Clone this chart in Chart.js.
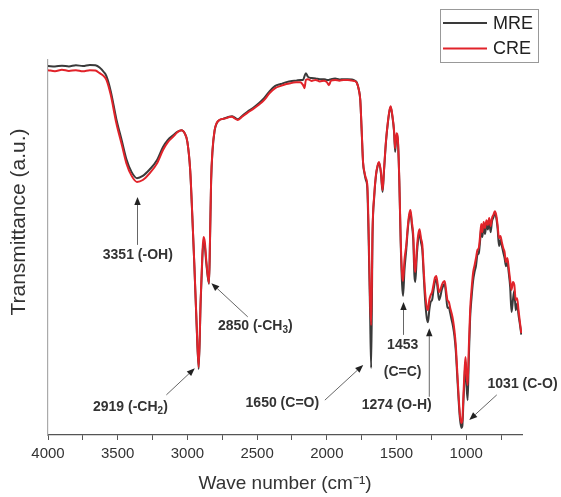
<!DOCTYPE html>
<html><head><meta charset="utf-8">
<script src="https://cdn.jsdelivr.net/npm/chart.js@4.4.1/dist/chart.umd.min.js"></script>
<style>html,body{margin:0;padding:0;background:#fff;}</style>
</head><body>
<canvas id="c" width="561" height="497"></canvas>
<script>
// ---- data ----
const wavenumbers = [4000,3950,3900,3850,3800,3750,3700,3660,3630,3600,3581,3550,3510,3470,3438,3400,3362,3320,3271,3220,3175,3140,3103,3070,3043,3020,3000,2980,2965,2950,2935,2919,2905,2893,2885,2875,2865,2845,2838,2830,2820,2805,2790,2770,2745,2720,2700,2680,2660,2640,2610,2570,2530,2490,2450,2410,2370,2330,2290,2250,2220,2190,2170,2160,2150,2135,2110,2080,2050,2020,2000,1985,1970,1940,1910,1880,1850,1820,1800,1785,1770,1760,1750,1740,1730,1720,1710,1700,1690,1682,1672,1660,1648,1635,1625,1612,1600,1590,1575,1562,1550,1542,1530,1518,1510,1500,1490,1480,1470,1460,1453,1443,1430,1420,1410,1400,1390,1380,1372,1365,1355,1345,1335,1325,1315,1305,1295,1283,1274,1265,1255,1245,1235,1225,1215,1205,1195,1185,1175,1165,1155,1145,1135,1125,1115,1105,1095,1085,1075,1065,1055,1045,1035,1028,1020,1012,1005,998,990,982,972,962,950,940,930,920,910,900,892,885,875,865,855,845,835,825,815,805,795,785,775,765,755,745,735,725,715,705,695,685,675,665,655,645,635,625,615,605];
const cre = [97.3,97.0,97.4,97.1,97.3,97.0,97.3,97.2,96.5,95.7,94.7,90.7,83.2,77.3,72.5,69.1,67.5,68.0,69.8,72.3,76.0,78.1,79.5,80.8,81.3,80.5,78.1,70.7,58.7,45.3,30.7,18.1,36.0,48.0,52.8,51.5,46.7,40.5,52.0,68.0,76.0,81.3,83.2,84.0,84.3,84.5,84.8,84.9,84.4,84.0,84.8,85.9,86.9,88.0,89.3,91.2,92.5,93.1,93.6,93.9,94.1,94.1,93.3,92.5,94.7,94.9,94.4,94.7,94.3,94.5,94.1,93.3,94.5,94.7,94.5,94.7,94.7,94.5,94.4,93.9,92.0,89.3,81.3,72.8,70.1,68.5,66.9,54.7,36.0,29.3,54.7,64.0,69.3,72.0,72.8,70.1,65.3,70.7,78.7,83.5,86.7,87.7,85.3,81.3,76.5,80.5,78.7,68.0,52.0,42.7,41.1,46.7,50.7,55.2,58.7,60.0,56.8,53.3,45.3,43.5,49.3,53.3,54.9,52.5,50.7,44.0,38.1,34.1,33.3,36.0,37.3,38.1,40.0,41.9,42.4,40.3,38.1,38.7,40.0,40.8,41.1,38.7,36.0,35.5,33.9,32.5,30.7,28.0,24.0,17.3,10.7,5.3,3.2,4.0,10.7,17.3,20.8,16.0,13.3,22.7,33.3,38.7,43.5,45.3,47.2,49.3,49.9,53.3,56.3,54.1,56.8,55.2,57.3,56.0,57.9,55.7,57.9,58.7,59.7,58.7,56.0,52.5,53.1,51.5,49.9,48.8,46.1,47.2,44.5,41.3,38.7,40.8,40.0,36.0,36.5,33.3,30.1,27.2];
const mre = [98.4,98.3,98.5,98.3,98.6,98.4,98.7,98.6,98.0,96.8,95.7,91.7,84.3,78.4,73.6,70.1,68.5,69.1,70.8,73.2,76.8,78.7,79.9,80.9,81.3,80.5,78.1,70.5,58.4,45.0,30.3,17.6,35.5,47.0,51.5,50.4,46.0,40.3,51.5,67.5,75.7,81.1,83.1,84.0,84.3,84.6,84.9,85.0,84.6,84.2,85.0,86.2,87.2,88.4,89.8,91.7,93.1,93.6,94.1,94.4,94.5,94.7,94.7,95.7,96.5,95.5,95.2,95.1,94.9,94.9,94.7,94.7,94.9,95.1,94.8,94.9,94.9,94.8,94.5,94.0,92.0,89.3,81.0,72.5,69.8,68.0,66.0,52.0,33.3,17.9,53.3,63.5,69.0,71.8,72.6,69.8,64.8,70.3,78.5,83.3,86.5,87.5,85.0,81.0,75.5,80.0,78.2,67.5,51.0,40.0,37.1,44.0,49.5,54.5,58.0,59.5,56.0,52.0,42.7,40.8,47.5,52.0,54.0,51.5,49.3,42.5,36.0,31.2,30.1,33.3,35.5,36.0,38.5,40.8,41.5,39.0,36.0,37.0,38.8,39.8,40.3,37.5,33.9,34.0,32.5,30.7,29.0,26.5,22.5,16.0,9.5,4.3,1.9,2.4,9.0,15.5,19.5,13.3,9.3,19.5,31.2,36.5,41.3,43.5,45.1,48.0,48.5,52.0,55.5,52.8,55.7,53.6,56.3,54.8,57.0,54.1,57.0,58.0,59.2,58.0,55.0,50.4,52.0,50.5,48.8,47.2,45.0,46.0,43.2,39.5,32.8,36.0,38.5,33.3,35.0,32.0,29.5,26.8];
const seriesNames = ['MRE', 'CRE'];
const xTickValues = [4000,3750,3500,3250,3000,2750,2500,2250,2000,1750,1500,1250,1000,750];
const peakLabels = ['3351 (-OH)', '2850 (-CH_3)', '2919 (-CH_2)', '1650 (C=O)', '1453|(C=C)', '1274 (O-H)', '1031 (C-O)'];

// ---- annotation placement (wavenumber, transmittance) ----
const labelAnchors = [[3356,48],[2513,28.9],[3409,7.5],[2319,8.5],[1456,24],[1499,8],[596,13.6]];
const arrowTails = [[3358,50.7],[2567,31.5],[3151,10.7],[2014,9.3],[1450,26.7],[1265,10.2],[781,10.7]];
const arrowTips  = [[3358,63.5],[2828,40.5],[2947,17.8],[1739,18.7],[1450,35.5],[1265,28.5],[978,4.0]];

const FAMILY = 'Arial, "Liberation Sans", "Helvetica", sans-serif';
const COLORS = ['#3a3a3a', '#e1232a'];

function drawRichText(ctx, text, cx, cy, size) {
  const parts = [];
  let i = 0, buf = '';
  while (i < text.length) {
    if (text[i] === '_') { if (buf) parts.push({t: buf, sub: false}); buf=''; parts.push({t: text[i+1], sub: true}); i += 2; }
    else { buf += text[i]; i++; }
  }
  if (buf) parts.push({t: buf, sub: false});
  const mainFont = 'bold ' + size + 'px ' + FAMILY;
  const subFont = 'bold ' + Math.round(size*0.7) + 'px ' + FAMILY;
  let total = 0;
  parts.forEach(p => { ctx.font = p.sub ? subFont : mainFont; p.w = ctx.measureText(p.t).width; total += p.w; });
  let xx = cx - total/2;
  ctx.textAlign = 'left'; ctx.textBaseline = 'middle';
  parts.forEach(p => { ctx.font = p.sub ? subFont : mainFont; ctx.fillText(p.t, xx, p.sub ? cy + 4 : cy); xx += p.w; });
}

const annotPlugin = {
  id: 'annot',
  afterDatasetsDraw(chart) {
    const {ctx, scales: {x, y}} = chart;
    ctx.save();
    arrowTails.forEach((t, k) => {
      const x1 = x.getPixelForValue(t[0]), y1 = y.getPixelForValue(t[1]);
      const x2 = x.getPixelForValue(arrowTips[k][0]), y2 = y.getPixelForValue(arrowTips[k][1]);
      const ang = Math.atan2(y2 - y1, x2 - x1), L = 8, W = 3.2;
      const bx = x2 - L*Math.cos(ang), by = y2 - L*Math.sin(ang);
      ctx.strokeStyle = '#666'; ctx.lineWidth = 1;
      ctx.beginPath(); ctx.moveTo(x1, y1); ctx.lineTo(bx, by); ctx.stroke();
      ctx.fillStyle = '#222';
      ctx.beginPath(); ctx.moveTo(x2, y2);
      ctx.lineTo(bx + W*Math.sin(ang), by - W*Math.cos(ang));
      ctx.lineTo(bx - W*Math.sin(ang), by + W*Math.cos(ang));
      ctx.closePath(); ctx.fill();
    });
    ctx.fillStyle = '#333';
    peakLabels.forEach((lab, k) => {
      const cx = x.getPixelForValue(labelAnchors[k][0]);
      const cy = y.getPixelForValue(labelAnchors[k][1]);
      lab.split('|').forEach((line, j) => drawRichText(ctx, line, cx, cy + j*27, 14));
    });
    ctx.restore();
  },
  afterDraw(chart) {
    const {ctx} = chart;
    ctx.save();
    // y axis title
    ctx.translate(19, 222); ctx.rotate(-Math.PI/2);
    ctx.font = '21px ' + FAMILY; ctx.fillStyle = '#333';
    ctx.textAlign = 'center'; ctx.textBaseline = 'middle';
    ctx.fillText('Transmittance (a.u.)', 0, 0);
    ctx.restore();
    // legend box
    ctx.save();
    ctx.strokeStyle = '#999'; ctx.lineWidth = 1;
    ctx.strokeRect(440.5, 9.5, 98, 53);
    chart.data.datasets.forEach((ds, k) => {
      const yy = 23 + k*25.5;
      ctx.strokeStyle = ds.borderColor; ctx.lineWidth = 1.8;
      ctx.beginPath(); ctx.moveTo(443, yy); ctx.lineTo(487, yy); ctx.stroke();
      ctx.font = '18px ' + FAMILY; ctx.fillStyle = '#222';
      ctx.textAlign = 'left'; ctx.textBaseline = 'middle';
      ctx.fillText(ds.label, 493, yy + 1);
    });
    ctx.restore();
  }
};

const datasets = [mre, cre].map((vals, k) => ({
  label: seriesNames[k],
  data: wavenumbers.map((w, i) => ({x: w, y: vals[i]})),
  borderColor: COLORS[k],
  backgroundColor: COLORS[k],
  borderWidth: 2,
  pointRadius: 0,
  cubicInterpolationMode: 'monotone',
  borderJoinStyle: 'round',
  fill: false,
  order: k === 0 ? 1 : 0
}));

new Chart(document.getElementById('c'), {
  type: 'line',
  data: {datasets},
  options: {
    responsive: false,
    animation: false,
    devicePixelRatio: 1,
    layout: {padding: {top: 60, right: 39, left: 0, bottom: 0}},
    plugins: {legend: {display: false}, tooltip: {enabled: false}},
    scales: {
      x: {
        type: 'linear', reverse: true, min: 600, max: 4000,
        afterBuildTicks: s => { s.ticks = xTickValues.map(v => ({value: v})); },
        afterFit: s => { s.height = 62; },
        grid: {drawOnChartArea: false, drawTicks: true, tickLength: 5, color: '#555', lineWidth: 1},
        border: {color: '#555', width: 1.2},
        ticks: {
          callback: v => (v % 500 === 0 ? String(v) : ''),
          font: {size: 15, family: FAMILY}, color: '#333', padding: 5,
          maxRotation: 0, autoSkip: false
        },
        title: {display: true, text: 'Wave number (cm⁻¹)', font: {size: 19, family: FAMILY}, color: '#333', padding: {top: 0, bottom: 2}}
      },
      y: {
        min: 0, max: 100,
        afterFit: s => { s.width = 48; },
        ticks: {display: false},
        grid: {drawOnChartArea: false, drawTicks: false},
        border: {display: true, color: '#aaa', width: 1.2}
      }
    }
  },
  plugins: [annotPlugin]
});
</script>
</body></html>
